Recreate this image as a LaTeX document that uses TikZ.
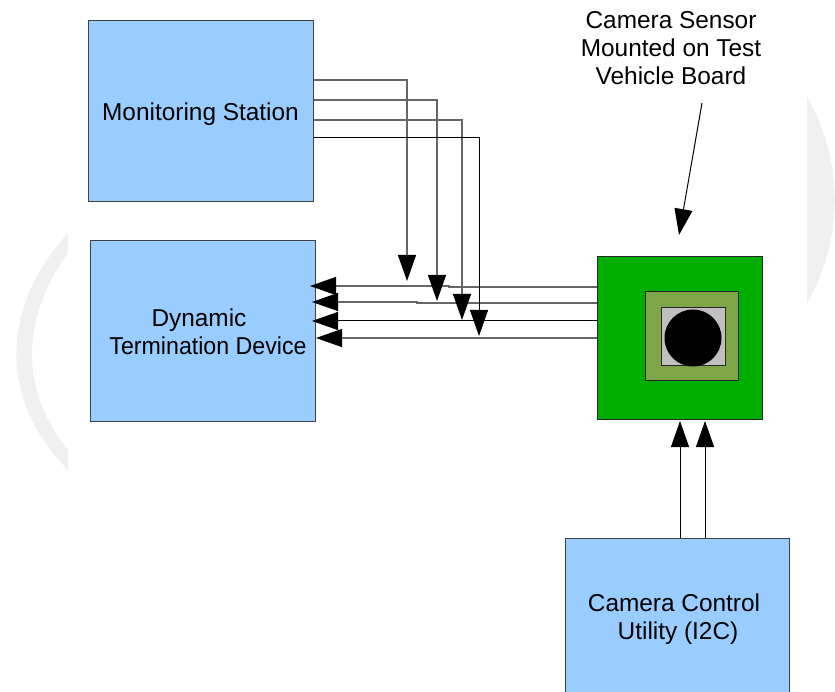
\documentclass[tikz,border=0pt]{standalone}
\usepackage{fontspec}
\setmainfont{Liberation Sans}
\usetikzlibrary{arrows.meta}
\definecolor{boxblue}{HTML}{99CCFF}
\definecolor{pcb}{HTML}{00AE00}
\definecolor{pkg}{HTML}{7FA646}
\definecolor{lensgray}{HTML}{C0C0C0}
\definecolor{wmgray}{HTML}{F0F0F0}
\definecolor{wire}{HTML}{666666}
\newcommand\lowered[2]{\raisebox{-#1}[\height][\depth]{#2}}
\tikzset{
  block/.style={draw=black!75,line width=1pt,fill=boxblue,inner sep=0pt,align=center,font=\fontsize{24.4}{28}\selectfont},
  part/.style={draw=black!85,line width=1pt,inner sep=0pt},
  captext/.style={inner sep=0pt,align=center,font=\fontsize{24.4}{28}\selectfont},
  sig/.style={line width=1pt,-{Triangle[length=26pt,width=18pt]}},
  sigg/.style={draw=wire,line width=1.2pt,-{Triangle[length=26pt,width=18pt,color=black]}},
  sigb/.style={sig,draw=black}
}
\begin{document}
\begin{tikzpicture}[x=1pt,y=-1pt]
\useasboundingbox (0,0) rectangle (835,692);
% watermark
\fill[wmgray] (68,233) .. controls (-1,310) and (-1,400) .. (68,470) -- (68,450) .. controls (20,390) and (20,320) .. (68,253) -- cycle;
\fill[wmgray] (807,97) .. controls (844,160) and (844,240) .. (807,303) -- cycle;
% blocks
\node[block,minimum width=225pt,minimum height=181pt] (mon) at (200.5,111) {\lowered{3pt}{Monitoring Station}};
\node[block,minimum width=225pt,minimum height=181pt] (dyn) at (202.5,331) {\hspace*{-7pt}\lowered{1pt}{Dynamic}\\\hspace*{11pt}\lowered{1pt}{\scalebox{0.95}[1]{Termination Device}}};
\node[block,minimum width=224pt,minimum height=154pt] (ccu) at (677,615) {\hspace*{-6pt}\lowered{4pt}{Camera Control}\\\hspace*{2pt}\lowered{4pt}{Utility (I2C)}};
\node[part,fill=pcb,minimum width=165pt,minimum height=163pt] (board) at (679.5,338) {};
\node[part,fill=pkg,minimum width=93pt,minimum height=88pt] (pack) at (691.5,336) {};
\node[part,fill=lensgray,minimum width=64pt,minimum height=58pt] (sq) at (693,337) {};
\node[fill=black,circle,inner sep=0pt,minimum size=57pt] (aperture) at (693,338) {};
\node[captext] (cap) at (671,48) {Camera Sensor\\Mounted on Test\\Vehicle Board};
% coordinates
\coordinate (a1) at (407,281); \coordinate (s1) at (0,80);
\coordinate (a2) at (437,301); \coordinate (s2) at (0,100);
\coordinate (a3) at (462,320); \coordinate (s3) at (0,120);
\coordinate (a4) at (479,336); \coordinate (s4) at (0,138);
\coordinate (b1) at (310,286); \coordinate (j1) at (449,287);
\coordinate (b2) at (312,302); \coordinate (j2) at (417,303);
\coordinate (b3) at (312,321);
\coordinate (b4) at (316,338);
\coordinate (c1) at (680,421);
\coordinate (c2) at (705,421);
\coordinate (d0) at (702,103);
\coordinate (d1) at (679,235);
% connectors
\draw[sigg] (board.west |- j1) -- (j1) -- (j1 |- b1) -- (b1);
\draw[sigg] (board.west |- j2) -- (j2) -- (j2 |- b2) -- (b2);
\draw[sigb] (board.west |- b3) -- (b3);
\draw[sigg] (board.west |- b4) -- (b4);
\draw[sigg] (mon.east |- s1) -| (a1);
\draw[sigg] (mon.east |- s2) -| (a2);
\draw[sigg] (mon.east |- s3) -| (a3);
\draw[sigb] (mon.east |- s4) -| (a4);
\draw[sigb] (ccu.north -| c1) -- (c1);
\draw[sigb] (ccu.north -| c2) -- (c2);
\draw[sigb] (d0) -- (d1);
\end{tikzpicture}
\end{document}
